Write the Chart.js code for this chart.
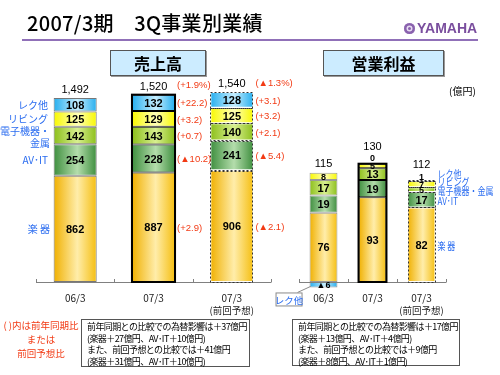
<!DOCTYPE html>
<html>
<head>
<meta charset="utf-8">
<script src="https://cdn.jsdelivr.net/npm/chart.js@4.4.0/dist/chart.umd.min.js"></script>
<style>
  body { margin: 0; width: 500px; height: 375px; position: relative; background: #fff; overflow: hidden;
         font-family: "Noto Sans CJK JP", sans-serif; }
  canvas { position: absolute; top: 0; }
  #salesChart { left: 0; }
  #profitChart { left: 272px; }
  #title { position: absolute; left: 27px; top: 11px; font-size: 20px; font-weight: 500; line-height: 24px; color: #000; letter-spacing: 0.3px; }
  #rule { position: absolute; left: 22px; top: 39px; width: 456px; height: 2px; background: #9070B8; }
  #logo { position: absolute; left: 404px; top: 21px; height: 14px; color: #7A4E9E; font: bold 14px "Liberation Sans", sans-serif; line-height: 14px; }
  #logo .mark { display: inline-block; width: 11px; height: 11px; border-radius: 50%; background: #8A62AE; margin-right: 2px; vertical-align: -1px;
                box-shadow: inset 0 0 0 2.5px #8A62AE, inset 0 0 0 4px #E8DDF2; }
  .hdr { position: absolute; top: 50px; height: 24px; background: #CCECFF; border: 1px solid #555; box-shadow: 1px 1px 0 #999;
         font-weight: bold; font-size: 16px; line-height: 24px; text-align: center; color: #000; }
  #h1 { left: 110px; width: 94px; }
  #h2 { left: 323px; width: 119px; }
  #unit { position: absolute; left: 449px; top: 84px; font-size: 10px; line-height: 14px; color: #000; }
  #note { position: absolute; left: 2px; top: 318px; width: 78px; text-align: center; font-size: 9.5px; line-height: 14px; color: #F23A14; }
  .box { position: absolute; top: 319px; height: 46px; border: 1px solid #555; font-size: 9px; line-height: 11.5px; color: #000;
         padding: 1px 0 0 5px; box-sizing: border-box; letter-spacing: -0.6px; white-space: nowrap; }
  #b1 { left: 81px; width: 169px; height: 48px; }
  #b2 { left: 292px; width: 168px; height: 47px; }
</style>
</head>
<body>
<canvas id="salesChart" width="300" height="375"></canvas>
<canvas id="profitChart" width="228" height="375"></canvas>
<div id="title">2007/3期　3Q事業別業績</div>
<div id="rule"></div>
<div id="logo"><span class="mark"></span>YAMAHA</div>
<div class="hdr" id="h1">売上高</div>
<div class="hdr" id="h2">営業利益</div>
<div id="unit">(億円)</div>
<div id="note">( )内は前年同期比<br>または<br>前回予想比</div>
<div class="box" id="b1">前年同期との比較での為替影響は＋37億円<br>(楽器＋27億円、AV･IT＋10億円)<br>また、前回予想との比較では＋41億円<br>(楽器＋31億円、AV･IT＋10億円)</div>
<div class="box" id="b2">前年同期との比較での為替影響は＋17億円<br>(楽器＋13億円、AV･IT＋4億円)<br>また、前回予想との比較では＋9億円<br>(楽器＋8億円、AV･IT＋1億円)</div>

<script>
// periods on the x axis
const periods = ['06/3', '07/3', '07/3'];
const periodNotes = ['', '', '(前回予想)'];

// segments, stacked bottom to top
const segmentNames = ['楽 器', 'AV･IT', '電子機器・金属', 'リビング', 'レク他'];

// 売上高 (億円)
const salesGakki = [862, 887, 906];
const salesAvIt = [254, 228, 241];
const salesDenshi = [142, 143, 140];
const salesLiving = [125, 129, 125];
const salesRec = [108, 132, 128];
const salesTotals = ['1,492', '1,520', '1,540'];

// change notes next to 07/3 (vs last year) and 07/3 forecast column (vs forecast), bottom to top
const salesChangeYoy = ['(+2.9)', '(▲10.2)', '(+0.7)', '(+3.2)', '(+22.2)'];
const salesChangeYoyTotal = '(+1.9%)';
const salesChangePlan = ['(▲2.1)', '(▲5.4)', '(+2.1)', '(+3.2)', '(+3.1)'];
const salesChangePlanTotal = '(▲1.3%)';

// 営業利益 (億円)
const profitGakki = [76, 93, 82];
const profitAvIt = [19, 19, 17];
const profitDenshi = [17, 13, 5];
const profitLiving = [8, 5, 7];
const profitRec = [-6, 0, 1];
const profitTotals = ['115', '130', '112'];

const palettes = [
  ['#F0B000', '#FFEDAA', '#F5BE10'],
  ['#3E8E3E', '#B4DDAC', '#3E8E3E'],
  ['#8CBF1A', '#D8EF90', '#8CBF1A'],
  ['#F8F800', '#FFFFB8', '#F8F800'],
  ['#26AEEE', '#C6EEFF', '#26AEEE']
];
const labelBlue = '#2A6CF0';
const noteRed = '#F23A14';

function gradFill(palette, pct) {
  return function (c) {
    const chart = c.chart;
    const xs = chart.scales.x;
    if (!xs || !chart.chartArea) return palette[1];
    const bw = xs.width / chart.data.labels.length * pct;
    const cx = xs.getPixelForValue(c.dataIndex);
    const g = chart.ctx.createLinearGradient(cx - bw / 2, 0, cx + bw / 2, 0);
    g.addColorStop(0, palette[0]);
    g.addColorStop(0.55, palette[1]);
    g.addColorStop(1, palette[2]);
    return g;
  };
}

function makeDatasets(series, pct, edge) {
  return series.map((data, i) => ({
    label: segmentNames[i],
    data: data,
    backgroundColor: gradFill(palettes[i], pct),
    borderColor: (c) => [edge, '#000', 'rgba(0,0,0,0)'][c.dataIndex],
    borderWidth: 1,
    borderSkipped: false,
    stack: 'all'
  }));
}

function barRect(el) {
  const p = el.getProps(['x', 'y', 'base', 'width'], true);
  return { x: p.x, left: p.x - p.width / 2, right: p.x + p.width / 2,
           top: Math.min(p.y, p.base), bottom: Math.max(p.y, p.base) };
}

function stackRect(chart, idx) {
  let r = null;
  chart.data.datasets.forEach((d, i) => {
    const b = barRect(chart.getDatasetMeta(i).data[idx]);
    if (!r) r = b;
    else { r.top = Math.min(r.top, b.top); r.bottom = Math.max(r.bottom, b.bottom); }
  });
  return r;
}

function text(ctx, str, x, y, font, color, align) {
  ctx.font = font;
  ctx.fillStyle = color;
  ctx.textAlign = align || 'center';
  ctx.textBaseline = 'middle';
  ctx.fillText(str, x, y);
}

// narrow text, left aligned
function narrowText(ctx, str, x, y, font, color, sx) {
  ctx.save();
  ctx.translate(x, y);
  ctx.scale(sx, 1);
  text(ctx, str, 0, 0, font, color, 'left');
  ctx.restore();
}

function drawFrame(chart) {
  const ctx = chart.ctx;
  const area = chart.chartArea;
  const y0 = chart.scales.y.getPixelForValue(0);
  const n = chart.data.labels.length;
  const cat = (area.right - area.left) / n;
  ctx.save();
  ctx.strokeStyle = '#808080';
  ctx.lineWidth = 1;
  ctx.beginPath();
  ctx.moveTo(area.left, y0 + 0.5);
  ctx.lineTo(area.right, y0 + 0.5);
  for (let k = 0; k <= n; k++) {
    const x = Math.round(area.left + k * cat) + 0.5;
    ctx.moveTo(x, y0 + 0.5);
    ctx.lineTo(x, y0 - 3);
  }
  ctx.stroke();
  // thick outline on 07/3, dotted outlines on forecast
  const r = stackRect(chart, 1);
  ctx.strokeStyle = '#000';
  ctx.lineWidth = 2;
  ctx.strokeRect(r.left, r.top, r.right - r.left, r.bottom - r.top);
  ctx.lineWidth = 1;
  ctx.strokeStyle = '#333';
  ctx.setLineDash([2, 2]);
  chart.data.datasets.forEach((d, i) => {
    const b = barRect(chart.getDatasetMeta(i).data[2]);
    if (b.bottom - b.top < 0.5) return;
    ctx.strokeRect(Math.round(b.left) + 0.5, Math.round(b.top) + 0.5, Math.round(b.right - b.left) - 1, Math.round(b.bottom - b.top));
  });
  ctx.setLineDash([]);
  // period labels
  chart.data.labels.forEach((lab, i) => {
    const x = chart.scales.x.getPixelForValue(i);
    text(ctx, lab, x, 298, '10px "Noto Sans CJK JP"', '#222');
    if (periodNotes[i]) text(ctx, periodNotes[i], x, 310, '9.5px "Noto Sans CJK JP"', '#222');
  });
  ctx.restore();
}

const salesDecor = {
  id: 'salesDecor',
  afterDatasetsDraw(chart) {
    const ctx = chart.ctx;
    drawFrame(chart);
    ctx.save();
    chart.data.datasets.forEach((d, i) => {
      const meta = chart.getDatasetMeta(i);
      meta.data.forEach((el, j) => {
        const b = barRect(el);
        const cy = (b.top + b.bottom) / 2;
        text(ctx, String(d.data[j]), b.x, cy + 1, 'bold 11px "Liberation Sans"', '#000');
        if (j === 0) {
          const name = segmentNames[i];
          if (name.length > 5) {
            text(ctx, '電子機器・', 50, cy - 4, '10px "Noto Sans CJK JP"', labelBlue, 'right');
            text(ctx, '金属', 50, cy + 8, '10px "Noto Sans CJK JP"', labelBlue, 'right');
          } else {
            text(ctx, name, i === 0 ? 50 : 48, cy, '10px "Noto Sans CJK JP"', labelBlue, 'right');
          }
        }
        if (j === 1) text(ctx, salesChangeYoy[i], b.right + 2, cy + 1, '9.5px "Liberation Sans"', noteRed, 'left');
        if (j === 2) text(ctx, salesChangePlan[i], b.right + 2, cy + 1, '9.5px "Liberation Sans"', noteRed, 'left');
      });
    });
    salesTotals.forEach((t, j) => {
      const r = stackRect(chart, j);
      text(ctx, t, r.x, r.top - 8, '11px "Liberation Sans"', '#000');
      if (j === 1) text(ctx, salesChangeYoyTotal, r.right + 2, r.top - 9, '9.5px "Liberation Sans"', noteRed, 'left');
      if (j === 2) text(ctx, salesChangePlanTotal, r.right + 2, r.top - 9, '9.5px "Liberation Sans"', noteRed, 'left');
    });
    ctx.restore();
  }
};

const profitLabelShift = [2, 2, 2, -2, -6];

const profitDecor = {
  id: 'profitDecor',
  afterDatasetsDraw(chart) {
    const ctx = chart.ctx;
    drawFrame(chart);
    ctx.save();
    const above = [null, null, null];
    chart.data.datasets.forEach((d, i) => {
      const meta = chart.getDatasetMeta(i);
      meta.data.forEach((el, j) => {
        const b = barRect(el);
        const v = d.data[j];
        const h = b.bottom - b.top;
        const str = v < 0 ? '▲' + (-v) : String(v);
        let cy = (b.top + b.bottom) / 2;
        if (v >= 0 && h < 2) { cy = b.top - (h < 0.5 ? 6 : 4); above[j] = cy; }
        const font = h < 8 ? 'bold 9px "Liberation Sans"' : 'bold 11px "Liberation Sans"';
        text(ctx, str, b.x, cy + 1, font, '#000');
        if (j === 2) {
          narrowText(ctx, segmentNames[i], b.right + 2, (b.top + b.bottom) / 2 + profitLabelShift[i], '10px "Noto Sans CJK JP"', labelBlue, 0.8);
        }
        if (j === 0 && v < 0) {
          // callout box for the negative segment
          const bx = b.left - 34, by = b.bottom + 5;
          ctx.strokeStyle = '#8A8A8A';
          ctx.lineWidth = 1;
          ctx.beginPath();
          ctx.moveTo(bx + 22, by);
          ctx.lineTo(b.left + 1, b.bottom - 1);
          ctx.stroke();
          ctx.fillStyle = '#fff';
          ctx.fillRect(bx + 0.5, by + 0.5, 26, 13);
          ctx.strokeRect(bx + 0.5, by + 0.5, 26, 13);
          text(ctx, segmentNames[i], bx + 13.5, by + 7.5, '9.5px "Noto Sans CJK JP"', labelBlue);
        }
      });
    });
    profitTotals.forEach((t, j) => {
      const r = stackRect(chart, j);
      let top = chart.scales.y.getPixelForValue(0);
      chart.data.datasets.forEach((d, i) => { top = Math.min(top, barRect(chart.getDatasetMeta(i).data[j]).top); });
      const y = above[j] !== null ? above[j] - 11 : top - 9;
      text(ctx, t, r.x, y, '11px "Liberation Sans"', '#000');
    });
    ctx.restore();
  }
};

function baseOptions(padding, yMin, yMax, pct) {
  return {
    responsive: false,
    animation: false,
    layout: { padding: padding },
    datasets: { bar: { categoryPercentage: 1, barPercentage: pct } },
    plugins: { legend: { display: false }, tooltip: { enabled: false } },
    scales: {
      x: { stacked: true, display: false },
      y: { stacked: true, display: false, min: yMin, max: yMax }
    }
  };
}

new Chart(document.getElementById('salesChart'), {
  type: 'bar',
  data: {
    labels: periods,
    datasets: makeDatasets([salesGakki, salesAvIt, salesDenshi, salesLiving, salesRec], 0.55, '#777')
  },
  options: baseOptions({ left: 36, right: 29, top: 60, bottom: 93 }, 0, 1800, 0.55),
  plugins: [salesDecor]
});

new Chart(document.getElementById('profitChart'), {
  type: 'bar',
  data: {
    labels: periods,
    datasets: makeDatasets([profitGakki, profitAvIt, profitDenshi, profitLiving, profitRec], 0.57, '#999')
  },
  options: baseOptions({ left: 27, right: 54, top: 100, bottom: 83.9 }, -10, 200, 0.57),
  plugins: [profitDecor]
});
</script>
</body>
</html>
